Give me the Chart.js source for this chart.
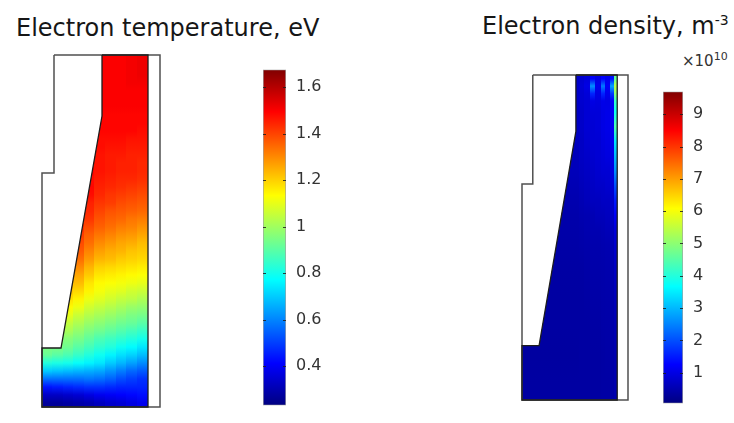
<!DOCTYPE html>
<html>
<head>
<meta charset="utf-8">
<script src="https://cdn.jsdelivr.net/npm/chart.js@4/dist/chart.umd.min.js"></script>
<style>
  html, body { margin: 0; padding: 0; background: #fff; }
  body { width: 734px; height: 423px; position: relative; overflow: hidden; font-family: "DejaVu Sans", sans-serif; }
  .box { position: absolute; }
  .title { position: absolute; font-size: 24px; line-height: 24px; color: #161616; white-space: nowrap; }
  .sup { position: relative; font-size: 14px; top: -9px; }
  .mult { position: absolute; font-size: 15px; line-height: 15px; color: #333; white-space: nowrap; }
  .mult span { position: relative; font-size: 11px; top: -6px; }
</style>
</head>
<body>
<div class="title" style="left:16px; top:16px;">Electron temperature, eV</div>
<div class="title" style="left:482px; top:14px;">Electron density, m<span class="sup">-3</span></div>
<div class="mult" style="left:682px; top:54px;">×10<span>10</span></div>

<div class="box" style="left:36px; top:49px; width:130px; height:364px;"><canvas id="teField"></canvas></div>
<div class="box" style="left:263px; top:50px; width:63px; height:375px;"><canvas id="teBar"></canvas></div>
<div class="box" style="left:516px; top:69px; width:118px; height:337px;"><canvas id="neField"></canvas></div>
<div class="box" style="left:663px; top:72px; width:60px; height:351px;"><canvas id="neBar"></canvas></div>

<script>
// ---- Geometry (mm): outer reactor outline and the plasma domain ----
const outerX  = [1.2, 11.8, 11.8, 0, 0, 1.2, 1.2];
const outerY  = [35.2, 35.2, 0, 0, 23.4, 23.4, 35.2];
const plasmaX = [6.0, 10.6, 10.6, 0, 0, 1.9, 6.0, 6.0];
const plasmaY = [35.2, 35.2, 0, 0, 5.9, 5.9, 29.1, 35.2];

// ---- Electron temperature (eV), rows listed from top (z = 35.2) to bottom ----
const teColEdges = [0, 1.06, 2.12, 3.18, 4.24, 5.3, 6.36, 7.42, 8.48, 9.54, 10.6];
const teRowEdges = [35.2, 34.4, 33.6, 32.8, 32.0, 31.2, 30.4, 29.6, 28.8, 28.0, 27.2, 26.4,
  25.6, 24.8, 24.0, 23.2, 22.4, 21.6, 20.8, 20.0, 19.2, 18.4, 17.6, 16.8, 16.0, 15.2, 14.4,
  13.6, 12.8, 12.0, 11.2, 10.4, 9.6, 8.8, 8.0, 7.2, 6.4, 5.6, 4.8, 4.0, 3.2, 2.4, 1.6, 0.8, 0];
const teValues = [
  [1.50,1.50,1.50,1.50,1.50,1.50,1.50,1.50,1.51,1.52],
  [1.50,1.50,1.50,1.50,1.50,1.50,1.50,1.50,1.51,1.52],
  [1.50,1.50,1.50,1.50,1.50,1.50,1.50,1.50,1.51,1.52],
  [1.50,1.50,1.50,1.50,1.50,1.50,1.50,1.50,1.51,1.51],
  [1.50,1.50,1.50,1.50,1.50,1.50,1.50,1.50,1.50,1.50],
  [1.50,1.50,1.50,1.50,1.50,1.50,1.50,1.50,1.50,1.50],
  [1.50,1.50,1.50,1.50,1.50,1.50,1.50,1.50,1.50,1.50],
  [1.49,1.49,1.49,1.49,1.49,1.49,1.49,1.49,1.49,1.49],
  [1.49,1.49,1.49,1.49,1.49,1.49,1.49,1.49,1.49,1.49],
  [1.49,1.49,1.49,1.49,1.49,1.49,1.49,1.49,1.49,1.48],
  [1.49,1.49,1.49,1.49,1.49,1.48,1.48,1.48,1.47,1.47],
  [1.49,1.49,1.49,1.49,1.49,1.48,1.47,1.47,1.46,1.46],
  [1.49,1.49,1.49,1.49,1.48,1.47,1.46,1.46,1.45,1.45],
  [1.49,1.49,1.49,1.49,1.48,1.47,1.46,1.45,1.45,1.44],
  [1.50,1.50,1.50,1.50,1.49,1.47,1.46,1.45,1.45,1.44],
  [1.50,1.50,1.50,1.50,1.48,1.46,1.45,1.44,1.44,1.43],
  [1.49,1.49,1.49,1.49,1.49,1.45,1.44,1.43,1.42,1.41],
  [1.49,1.49,1.49,1.49,1.48,1.44,1.42,1.41,1.40,1.39],
  [1.47,1.47,1.47,1.47,1.45,1.42,1.41,1.39,1.38,1.37],
  [1.46,1.46,1.46,1.46,1.44,1.40,1.38,1.37,1.36,1.35],
  [1.45,1.45,1.45,1.45,1.42,1.38,1.36,1.35,1.33,1.32],
  [1.43,1.43,1.43,1.43,1.39,1.36,1.34,1.32,1.31,1.29],
  [1.41,1.41,1.41,1.41,1.36,1.33,1.31,1.29,1.28,1.26],
  [1.39,1.39,1.39,1.39,1.34,1.30,1.28,1.26,1.25,1.23],
  [1.37,1.37,1.37,1.37,1.31,1.27,1.25,1.24,1.22,1.21],
  [1.35,1.35,1.35,1.34,1.28,1.24,1.23,1.21,1.20,1.19],
  [1.32,1.32,1.32,1.30,1.24,1.20,1.19,1.18,1.17,1.16],
  [1.29,1.29,1.29,1.26,1.21,1.17,1.16,1.15,1.14,1.13],
  [1.26,1.26,1.26,1.23,1.17,1.14,1.13,1.12,1.11,1.10],
  [1.22,1.22,1.22,1.19,1.15,1.12,1.10,1.09,1.07,1.06],
  [1.18,1.18,1.18,1.15,1.11,1.09,1.07,1.05,1.04,1.02],
  [1.14,1.14,1.14,1.11,1.07,1.05,1.03,1.01,0.99,0.98],
  [1.10,1.10,1.10,1.06,1.03,1.01,0.99,0.97,0.95,0.94],
  [1.06,1.06,1.05,1.02,0.99,0.97,0.95,0.93,0.92,0.90],
  [1.02,1.02,1.01,0.98,0.95,0.93,0.91,0.89,0.87,0.85],
  [0.98,0.98,0.96,0.94,0.91,0.88,0.86,0.84,0.82,0.80],
  [0.95,0.95,0.93,0.90,0.87,0.84,0.82,0.79,0.77,0.74],
  [0.92,0.90,0.88,0.85,0.82,0.79,0.76,0.73,0.71,0.68],
  [0.82,0.81,0.80,0.78,0.76,0.74,0.70,0.67,0.64,0.61],
  [0.70,0.69,0.68,0.67,0.66,0.65,0.62,0.59,0.56,0.54],
  [0.57,0.57,0.57,0.57,0.58,0.57,0.55,0.52,0.50,0.48],
  [0.44,0.45,0.46,0.47,0.48,0.48,0.47,0.46,0.46,0.46],
  [0.33,0.33,0.34,0.35,0.37,0.39,0.40,0.41,0.42,0.43],
  [0.27,0.27,0.28,0.29,0.30,0.32,0.34,0.35,0.37,0.39]
];
const teRange = [0.232, 1.676];
const teTicks = [0.4, 0.6, 0.8, 1, 1.2, 1.4, 1.6];
const teTickLabels = ['0.4', '0.6', '0.8', '1', '1.2', '1.4', '1.6'];

// ---- Electron density (1e10 m^-3), rows listed from top to bottom ----
const neColEdges = [0, 1.06, 2.12, 3.18, 4.24, 5.3, 6.36, 7.0, 7.6, 8.2, 8.8, 9.3, 9.8, 10.3, 10.6];
const neRowEdges = [35.2, 34.4, 33.6, 32.8, 32.0, 30.4, 28.8, 27.2, 25.6, 24.0, 22.4, 20.8,
  19.2, 17.6, 16.0, 12.8, 9.6, 6.4, 3.2, 0];
const neValues = [
  [0.70,0.70,0.70,0.70,0.70,0.75,0.80,0.90,1.20,1.00,1.25,1.10,1.40,4.6],
  [0.70,0.70,0.70,0.70,0.70,0.75,0.85,1.00,2.60,1.10,2.40,1.20,2.80,5.4],
  [0.70,0.70,0.70,0.70,0.70,0.75,0.80,0.90,1.60,1.00,1.60,1.10,1.80,5.0],
  [0.70,0.70,0.70,0.70,0.70,0.75,0.80,0.85,1.00,0.95,1.05,1.00,1.20,4.2],
  [0.65,0.65,0.65,0.65,0.65,0.70,0.75,0.85,0.90,0.90,1.00,1.05,1.15,3.8],
  [0.65,0.65,0.65,0.65,0.65,0.70,0.75,0.85,0.85,0.90,1.00,1.05,1.15,4.4],
  [0.60,0.60,0.60,0.60,0.60,0.65,0.70,0.80,0.85,0.85,0.95,1.00,1.10,3.4],
  [0.60,0.60,0.60,0.60,0.60,0.60,0.70,0.75,0.80,0.85,0.90,0.95,1.00,3.0],
  [0.55,0.55,0.55,0.55,0.55,0.60,0.65,0.70,0.75,0.80,0.85,0.85,0.95,2.6],
  [0.52,0.52,0.52,0.52,0.52,0.55,0.60,0.65,0.70,0.75,0.75,0.80,0.85,2.0],
  [0.50,0.50,0.50,0.50,0.50,0.50,0.55,0.60,0.65,0.65,0.70,0.70,0.75,1.5],
  [0.46,0.46,0.46,0.46,0.46,0.46,0.50,0.52,0.55,0.60,0.60,0.65,0.70,1.2],
  [0.44,0.44,0.44,0.44,0.44,0.44,0.46,0.50,0.52,0.52,0.55,0.58,0.60,0.9],
  [0.42,0.42,0.42,0.42,0.42,0.42,0.44,0.46,0.48,0.48,0.50,0.52,0.55,0.8],
  [0.40,0.40,0.40,0.40,0.40,0.40,0.40,0.42,0.45,0.45,0.46,0.48,0.50,0.7],
  [0.38,0.38,0.38,0.38,0.38,0.38,0.38,0.40,0.42,0.42,0.44,0.45,0.46,0.6],
  [0.38,0.38,0.38,0.38,0.38,0.38,0.38,0.38,0.40,0.40,0.42,0.43,0.44,0.55],
  [0.36,0.36,0.36,0.36,0.36,0.36,0.38,0.38,0.38,0.38,0.40,0.41,0.42,0.5],
  [0.38,0.38,0.38,0.38,0.38,0.38,0.38,0.38,0.38,0.38,0.40,0.40,0.41,0.5]
];
const neRange = [0.05, 9.7];
const neTicks = [1, 2, 3, 4, 5, 6, 7, 8, 9];
const neTickLabels = ['1', '2', '3', '4', '5', '6', '7', '8', '9'];

// ---- Rainbow ("jet") colour table ----
const JET_STOPS = [[0, '#000080'], [0.125, '#0000ff'], [0.375, '#00ffff'],
                   [0.625, '#ffff00'], [0.875, '#ff0000'], [1, '#800000']];
function clamp01(v) { return Math.max(0, Math.min(1, v)); }
function jet(t) {
  t = clamp01(t);
  const r = clamp01(Math.min(4 * t - 1.5, -4 * t + 4.5));
  const g = clamp01(Math.min(4 * t - 0.5, -4 * t + 3.5));
  const b = clamp01(Math.min(4 * t + 0.5, -4 * t + 2.5));
  return `rgb(${Math.round(r * 255)},${Math.round(g * 255)},${Math.round(b * 255)})`;
}

const FONT = "'DejaVu Sans', sans-serif";

function pts(xs, ys) { return xs.map((x, i) => ({ x, y: ys[i] })); }

// Surface plot: every column of grid cells is painted as one strip whose
// colour stops sit at the cell centres, clipped to the plasma domain.
const surfaceCells = {
  id: 'surfaceCells',
  beforeDatasetsDraw(chart, args, o) {
    const { ctx, scales: { x, y } } = chart;
    ctx.save();
    ctx.beginPath();
    plasmaX.forEach((px, i) => {
      const X = x.getPixelForValue(px), Y = y.getPixelForValue(plasmaY[i]);
      i ? ctx.lineTo(X, Y) : ctx.moveTo(X, Y);
    });
    ctx.closePath();
    ctx.clip();
    const [lo, hi] = o.range;
    const top = y.getPixelForValue(o.rows[0]);
    const bottom = y.getPixelForValue(o.rows[o.rows.length - 1]);
    const span = bottom - top;
    for (let c = 0; c < o.cols.length - 1; c++) {
      const x0 = x.getPixelForValue(o.cols[c]), x1 = x.getPixelForValue(o.cols[c + 1]);
      const g = ctx.createLinearGradient(0, top, 0, bottom);
      o.values.forEach((row, r) => {
        const yc = (y.getPixelForValue(o.rows[r]) + y.getPixelForValue(o.rows[r + 1])) / 2;
        const col = jet((row[c] - lo) / (hi - lo));
        if (r === 0) g.addColorStop(0, col);
        g.addColorStop(clamp01((yc - top) / span), col);
        if (r === o.values.length - 1) g.addColorStop(1, col);
      });
      ctx.fillStyle = g;
      ctx.fillRect(Math.floor(x0), top - 1, Math.ceil(x1) - Math.floor(x0) + 1, span + 2);
    }
    ctx.restore();
  }
};

function fieldChart(id, cells) {
  return new Chart(document.getElementById(id), {
    type: 'scatter',
    data: {
      datasets: [
        { data: pts(plasmaX, plasmaY), showLine: true, borderColor: '#1d1d1d', borderWidth: 1.3,
          pointRadius: 0, clip: false, order: 1 },
        { data: pts(outerX, outerY), showLine: true, borderColor: '#505050', borderWidth: 1.5,
          pointRadius: 0, clip: false, order: 2 }
      ]
    },
    options: {
      responsive: true, maintainAspectRatio: false, animation: false, events: [],
      layout: { padding: 6 },
      scales: {
        x: { type: 'linear', min: 0, max: 11.8, display: false },
        y: { type: 'linear', min: 0, max: 35.2, display: false }
      },
      plugins: { legend: { display: false }, tooltip: { enabled: false }, surfaceCells: cells }
    },
    plugins: [surfaceCells]
  });
}

// Short tick marks drawn inside both edges of a colour bar.
const barTicks = {
  id: 'barTicks',
  afterDatasetsDraw(chart) {
    const { ctx, chartArea: a, scales: { y } } = chart;
    ctx.save();
    ctx.strokeStyle = 'rgba(30,30,30,0.85)';
    ctx.lineWidth = 1;
    y.ticks.forEach(t => {
      const py = Math.round(y.getPixelForValue(t.value)) + 0.5;
      ctx.beginPath();
      ctx.moveTo(a.left, py); ctx.lineTo(a.left + 3, py);
      ctx.moveTo(a.right - 3, py); ctx.lineTo(a.right, py);
      ctx.stroke();
    });
    ctx.restore();
  }
};

function colorBar(id, range, ticks, labels, pad) {
  return new Chart(document.getElementById(id), {
    type: 'bar',
    data: {
      labels: [''],
      datasets: [{
        data: [range],
        backgroundColor: (c) => {
          const a = c.chart.chartArea;
          if (!a) return '#0000ff';
          const g = c.chart.ctx.createLinearGradient(0, a.bottom, 0, a.top);
          JET_STOPS.forEach(([s, col]) => g.addColorStop(s, col));
          return g;
        },
        borderColor: 'rgba(50,50,50,0.45)', borderWidth: 1, borderSkipped: false,
        barPercentage: 1, categoryPercentage: 1
      }]
    },
    options: {
      responsive: true, maintainAspectRatio: false, animation: false, events: [],
      layout: { padding: pad },
      scales: {
        x: { display: false },
        y: {
          position: 'right', min: range[0], max: range[1],
          afterBuildTicks: (s) => { s.ticks = ticks.map(v => ({ value: v })); },
          afterFit: (s) => { s.width = 40; },
          grid: { display: false, drawTicks: false },
          border: { display: false },
          ticks: {
            padding: 10, color: '#333', font: { family: FONT, size: 16 },
            callback: (v) => labels[ticks.indexOf(v)] ?? ''
          }
        }
      },
      plugins: { legend: { display: false }, tooltip: { enabled: false } }
    },
    plugins: [barTicks]
  });
}

fieldChart('teField', { values: teValues, cols: teColEdges, rows: teRowEdges, range: teRange });
colorBar('teBar', teRange, teTicks, teTickLabels, { top: 6, bottom: 8, left: 0, right: 0 });
fieldChart('neField', { values: neValues, cols: neColEdges, rows: neRowEdges, range: neRange });
colorBar('neBar', neRange, neTicks, neTickLabels, { top: 6, bottom: 3, left: 0, right: 0 });
</script>
</body>
</html>
